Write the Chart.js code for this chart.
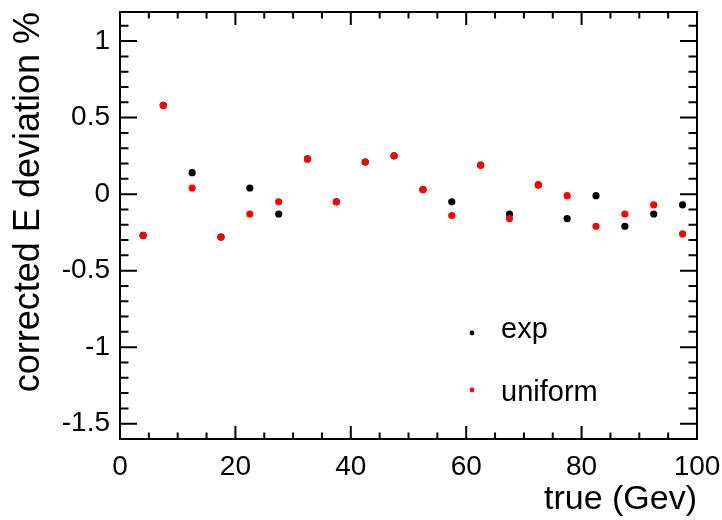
<!DOCTYPE html>
<html>
<head>
<meta charset="utf-8">
<script src="https://cdn.jsdelivr.net/npm/chart.js@4.4.1/dist/chart.umd.min.js"></script>
<style>
  html, body { margin: 0; padding: 0; background: #fff; }
  #wrap { width: 722px; height: 520px; }
</style>
</head>
<body>
<div id="wrap"><canvas id="chart" width="722" height="520"></canvas></div>
<script>
// true energy (GeV) of each point
const energies = [4, 7.5, 12.5, 17.5, 22.5, 27.5, 32.5, 37.5, 42.5, 47.5,
                  52.5, 57.5, 62.5, 67.5, 72.5, 77.5, 82.5, 87.5, 92.5, 97.5];
// corrected E deviation in %
const expDev = [-0.27, 0.58, 0.14, -0.28, 0.04, -0.13, 0.23, -0.05, 0.21, 0.25,
                0.03, -0.05, 0.19, -0.13, 0.06, -0.16, -0.01, -0.21, -0.13, -0.07];
const uniformDev = [-0.27, 0.58, 0.04, -0.28, -0.13, -0.05, 0.23, -0.05, 0.21, 0.25,
                    0.03, -0.14, 0.19, -0.16, 0.06, -0.01, -0.21, -0.13, -0.07, -0.26];
const seriesNames = ["exp", "uniform"];
const xTickValues = [0, 20, 40, 60, 80, 100];
const yTickValues = [-1.5, -1, -0.5, 0, 0.5, 1];

const FONT = "'Liberation Sans', Arial, Helvetica, sans-serif";

const toPoints = ys => energies.map((x, i) => ({ x: x, y: ys[i] }));

// ROOT look: white page, box frame with ticks pointing inwards, legend inside the pad
const rootFrame = {
  id: "rootFrame",
  beforeDraw(chart) {
    const c = chart.ctx;
    c.save();
    c.fillStyle = "#fff";
    c.fillRect(0, 0, chart.width, chart.height);
    c.restore();
  },
  afterDatasetsDraw(chart) {
    const c = chart.ctx;
    const a = chart.chartArea;
    const xs = chart.scales.x, ys = chart.scales.y;
    c.save();
    c.strokeStyle = "#000";
    c.lineWidth = 2;
    c.strokeRect(a.left, a.top, a.right - a.left, a.bottom - a.top);

    c.beginPath();
    // x ticks every 5, major every 20
    for (let v = 0; v <= 100; v += 5) {
      const px = xs.getPixelForValue(v);
      const len = v % 20 === 0 ? 13 : 6.5;
      c.moveTo(px, a.bottom); c.lineTo(px, a.bottom - len);
      c.moveTo(px, a.top); c.lineTo(px, a.top + len);
    }
    // y ticks every 0.1, major every 0.5
    for (let k = -16; k <= 11; k++) {
      const py = ys.getPixelForValue(k / 10);
      const len = k % 5 === 0 ? 17 : 8.5;
      c.moveTo(a.left, py); c.lineTo(a.left + len, py);
      c.moveTo(a.right, py); c.lineTo(a.right - len, py);
    }
    c.stroke();

    // legend
    const markY = [333, 390];
    const textY = [338, 401];
    c.font = "29px " + FONT;
    c.textAlign = "left";
    c.textBaseline = "alphabetic";
    chart.data.datasets.forEach((ds, i) => {
      c.fillStyle = ds.backgroundColor;
      c.beginPath();
      c.arc(472, markY[i], 2.4, 0, Math.PI * 2);
      c.fill();
      c.fillStyle = "#000";
      c.fillText(ds.label, 501, textY[i]);
    });
    c.restore();
  }
};

const ctx = document.getElementById("chart");
new Chart(ctx, {
  type: "scatter",
  data: {
    datasets: [
      {
        label: seriesNames[0],
        data: toPoints(expDev),
        backgroundColor: "#000000",
        borderWidth: 0,
        pointRadius: 3.6,
        order: 1
      },
      {
        label: seriesNames[1],
        data: toPoints(uniformDev),
        backgroundColor: "#ff0000",
        borderWidth: 0,
        pointRadius: 3.6,
        order: 0 // drawn on top of exp
      }
    ]
  },
  options: {
    responsive: false,
    animation: false,
    devicePixelRatio: 1,
    layout: { padding: { left: 0, right: 25, top: 12, bottom: 0 } },
    plugins: {
      legend: { display: false },
      tooltip: { enabled: false }
    },
    scales: {
      x: {
        type: "linear",
        min: 0,
        max: 100,
        afterBuildTicks: s => { s.ticks = xTickValues.map(v => ({ value: v })); },
        afterFit: s => { s.height = 81; s.paddingLeft = 0; s.paddingRight = 0; },
        grid: { display: false, drawTicks: false },
        border: { display: false },
        ticks: {
          color: "#000",
          font: { family: FONT, size: 28 },
          padding: 11,
          maxRotation: 0,
          autoSkip: false,
          callback: v => String(v)
        },
        title: {
          display: true,
          text: "true (Gev)",
          align: "end",
          color: "#000",
          font: { family: FONT, size: 34 },
          padding: 0
        }
      },
      y: {
        type: "linear",
        min: -1.6,
        max: 1.19,
        afterBuildTicks: s => { s.ticks = yTickValues.map(v => ({ value: v })); },
        afterFit: s => { s.width = 120; s.paddingTop = 0; s.paddingBottom = 0; },
        grid: { display: false, drawTicks: false },
        border: { display: false },
        ticks: {
          color: "#000",
          font: { family: FONT, size: 28 },
          padding: 10,
          autoSkip: false,
          callback: v => String(v)
        },
        title: {
          display: true,
          text: "corrected E deviation %",
          align: "end",
          color: "#000",
          font: { family: FONT, size: 36 },
          padding: { top: 7, bottom: 0 }
        }
      }
    }
  },
  plugins: [rootFrame]
});
</script>
</body>
</html>
